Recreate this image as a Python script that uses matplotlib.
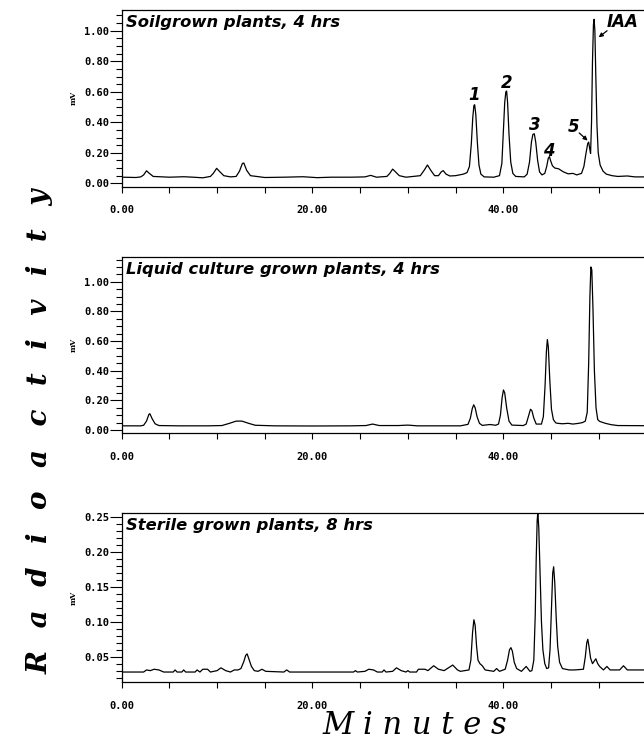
#!/usr/bin/env python3
"""Three radio-HPLC traces (soil / liquid culture / sterile grown plants), stacked, shared minute axis."""
import matplotlib; matplotlib.use("Agg")
import matplotlib.pyplot as plt
from matplotlib.ticker import MultipleLocator, FixedLocator, FixedFormatter

# --- soilgrown plants, 4 hrs (minutes, mV) ---
t_soil = [0.0, 1.5, 2.0, 2.3, 2.6, 2.9, 3.3, 5.0, 6.5, 7.5, 8.5, 9.3, 9.6, 9.95, 10.3, 10.7, 11.4,
          12.0, 12.35, 12.65, 12.8, 13.1, 13.5, 15.0, 17.0, 19.0, 20.5, 22.0, 24.0, 25.5, 26.1, 26.7,
          27.8, 28.1, 28.4, 28.7, 29.1, 29.8, 31.3, 31.7, 32.05, 32.4, 32.8, 33.2, 33.5, 33.7, 34.0,
          34.4, 35.0, 35.8, 36.2, 36.45, 36.65, 36.8, 36.92, 37.0, 37.12, 37.28, 37.45, 37.65, 38.0,
          39.0, 39.6, 39.85, 40.0, 40.15, 40.27, 40.35, 40.45, 40.6, 40.78, 41.0, 41.3, 42.2, 42.5,
          42.75, 42.95, 43.1, 43.25, 43.4, 43.6, 43.8, 44.05, 44.35, 44.55, 44.72, 44.84, 44.95, 45.15,
          45.4, 45.8, 46.3, 46.8, 47.3, 47.7, 48.2, 48.45, 48.65, 48.85, 48.95, 49.05, 49.15, 49.25,
          49.35, 49.45, 49.52, 49.6, 49.7, 49.82, 49.95, 50.15, 50.45, 50.8, 51.4, 52.0, 53.0, 53.8,
          54.8]
v_soil = [0.040, 0.038, 0.042, 0.055, 0.082, 0.065, 0.045, 0.040, 0.043, 0.040, 0.036, 0.045, 0.065,
          0.098, 0.075, 0.050, 0.042, 0.045, 0.080, 0.130, 0.133, 0.085, 0.050, 0.038, 0.040, 0.043,
          0.037, 0.040, 0.040, 0.042, 0.052, 0.040, 0.045, 0.065, 0.093, 0.075, 0.050, 0.040, 0.050,
          0.085, 0.120, 0.085, 0.050, 0.050, 0.075, 0.083, 0.060, 0.048, 0.050, 0.060, 0.070, 0.110,
          0.260, 0.430, 0.510, 0.515, 0.450, 0.270, 0.120, 0.060, 0.042, 0.040, 0.050, 0.130, 0.330,
          0.530, 0.600, 0.605, 0.530, 0.320, 0.140, 0.065, 0.045, 0.042, 0.060, 0.140, 0.270, 0.320,
          0.325, 0.270, 0.150, 0.075, 0.055, 0.065, 0.110, 0.165, 0.175, 0.150, 0.115, 0.100, 0.095,
          0.075, 0.062, 0.065, 0.055, 0.065, 0.110, 0.190, 0.260, 0.270, 0.230, 0.195, 0.400, 0.800,
          1.040, 1.075, 1.000, 0.700, 0.380, 0.200, 0.120, 0.080, 0.060, 0.050, 0.045, 0.048, 0.042,
          0.042]

# --- liquid culture grown plants, 4 hrs ---
t_liq = [0.0, 2.0, 2.3, 2.6, 2.85, 2.95, 3.2, 3.5, 3.9, 6.0, 9.0, 10.5, 11.3, 12.0, 12.6, 13.3, 14.0,
         16.0, 20.0, 24.0, 25.6, 26.3, 27.0, 29.0, 30.0, 31.0, 35.5, 36.3, 36.55, 36.75, 36.9, 37.05,
         37.25, 37.5, 37.8, 38.6, 39.2, 39.5, 39.7, 39.88, 40.02, 40.15, 40.35, 40.6, 40.9, 42.1,
         42.4, 42.65, 42.85, 43.0, 43.2, 43.45, 44.0, 44.2, 44.38, 44.52, 44.62, 44.72, 44.88, 45.05,
         45.25, 45.5, 45.7, 46.2, 46.8, 47.3, 47.9, 48.3, 48.6, 48.8, 48.95, 49.08, 49.18, 49.28,
         49.4, 49.55, 49.72, 49.9, 50.1, 50.7, 51.3, 52.0, 54.8]
v_liq = [0.028, 0.028, 0.032, 0.060, 0.105, 0.110, 0.075, 0.042, 0.030, 0.028, 0.028, 0.030, 0.045,
         0.060, 0.060, 0.045, 0.032, 0.028, 0.027, 0.028, 0.030, 0.040, 0.030, 0.030, 0.033, 0.028,
         0.028, 0.038, 0.080, 0.145, 0.170, 0.150, 0.090, 0.045, 0.031, 0.037, 0.032, 0.040, 0.100,
         0.220, 0.270, 0.250, 0.150, 0.060, 0.033, 0.030, 0.040, 0.095, 0.140, 0.130, 0.080, 0.040,
         0.040, 0.090, 0.300, 0.530, 0.610, 0.560, 0.330, 0.140, 0.070, 0.048, 0.045, 0.042, 0.045,
         0.040, 0.045, 0.050, 0.060, 0.120, 0.450, 0.900, 1.100, 1.080, 0.820, 0.400, 0.150, 0.070,
         0.058, 0.045, 0.036, 0.030, 0.029]

# --- sterile grown plants, 8 hrs ---
t_ster = [0.0, 2.3, 2.6, 3.0, 3.4, 3.9, 4.4, 5.4, 5.6, 5.8, 6.3, 6.5, 6.7, 7.7, 7.9, 8.2, 8.5, 9.0,
          9.3, 10.0, 10.4, 10.9, 11.4, 11.8, 12.2, 12.5, 12.8, 13.0, 13.15, 13.35, 13.6, 13.9, 14.3,
          14.7, 15.1, 17.0, 17.3, 17.6, 24.3, 24.5, 24.7, 25.5, 25.9, 26.4, 26.8, 27.3, 27.5, 27.7,
          28.4, 28.8, 29.3, 29.8, 30.0, 30.2, 30.9, 31.1, 31.8, 32.1, 32.7, 33.2, 33.8, 34.7, 35.2,
          35.5, 36.4, 36.6, 36.78, 36.92, 37.05, 37.2, 37.35, 37.55, 37.8, 38.1, 39.0, 39.3, 39.6,
          40.2, 40.45, 40.65, 40.8, 40.95, 41.15, 41.4, 41.9, 42.4, 42.8, 43.0, 43.2, 43.35, 43.45,
          43.55, 43.62, 43.72, 43.85, 44.0, 44.15, 44.35, 44.55, 44.75, 44.9, 45.05, 45.18, 45.28,
          45.4, 45.55, 45.7, 45.9, 46.2, 46.9, 47.5, 48.4, 48.6, 48.75, 48.86, 48.98, 49.15, 49.35,
          49.55, 49.7, 49.9, 50.1, 50.5, 50.86, 51.2, 52.2, 52.6, 53.0, 54.8]
v_ster = [0.028, 0.028, 0.031, 0.030, 0.032, 0.031, 0.028, 0.028, 0.031, 0.028, 0.028, 0.031, 0.028,
          0.028, 0.031, 0.028, 0.032, 0.032, 0.028, 0.030, 0.034, 0.030, 0.028, 0.031, 0.031, 0.033,
          0.043, 0.052, 0.054, 0.046, 0.036, 0.030, 0.029, 0.032, 0.029, 0.028, 0.031, 0.028, 0.028,
          0.030, 0.028, 0.029, 0.032, 0.031, 0.028, 0.028, 0.031, 0.028, 0.029, 0.034, 0.030, 0.028,
          0.030, 0.028, 0.028, 0.032, 0.032, 0.030, 0.037, 0.032, 0.030, 0.038, 0.031, 0.029, 0.031,
          0.045, 0.085, 0.103, 0.095, 0.065, 0.045, 0.040, 0.037, 0.031, 0.029, 0.033, 0.029, 0.032,
          0.045, 0.060, 0.063, 0.058, 0.042, 0.033, 0.029, 0.036, 0.029, 0.030, 0.045, 0.110, 0.190,
          0.245, 0.257, 0.235, 0.170, 0.100, 0.060, 0.040, 0.033, 0.034, 0.060, 0.120, 0.170, 0.179,
          0.155, 0.105, 0.065, 0.042, 0.033, 0.031, 0.031, 0.032, 0.050, 0.070, 0.075, 0.065, 0.048,
          0.040, 0.044, 0.047, 0.040, 0.036, 0.031, 0.036, 0.031, 0.031, 0.037, 0.031, 0.031]

titles = ["Soilgrown plants, 4 hrs", "Liquid culture grown plants, 4 hrs", "Sterile grown plants, 8 hrs"]
# peak annotations on the soil trace: (label, x, y)
peak_lab = [("1", 36.95, 0.58), ("2", 40.35, 0.655), ("3", 43.26, 0.38), ("4", 44.74, 0.21)]
# (label, text x, text y, arrow tail x, y, arrow tip x, y)
arrow_lab = [("5", 47.37, 0.37, 47.96, 0.33, 48.84, 0.28),
             ("IAA", 52.46, 1.06, 50.88, 1.00, 50.0, 0.957)]

W, H = 644, 742
fig = plt.figure(figsize=(W/100, H/100), dpi=100)
TICKFONT = dict(family="DejaVu Sans Mono", weight="bold", size=7.5)
TITLEFONT = dict(family="DejaVu Sans", weight="bold", style="italic", size=11.8)

# (top px, bottom px, ylim, major step, minor step, labelled range)
panels = [(10, 186.7, (-0.0223, 1.136), 0.2, 0.05, (0.0, 1.0)),
          (257.3, 433.3, (-0.0223, 1.165), 0.2, 0.05, (0.0, 1.0)),
          (513.3, 682, (0.0137, 0.2557), 0.05, 0.01, (0.05, 0.25))]
data = [(t_soil, v_soil), (t_liq, v_liq), (t_ster, v_ster)]
L = 121.7
for i, ((top, bot, ylim, mj, mn, rng), (t, v)) in enumerate(zip(panels, data)):
    ax = fig.add_axes([L/W, 1-bot/H, 1-L/W, (bot-top)/H])
    ax.plot(t, v, color="black", lw=0.9)
    ax.set_xlim(0, 54.75); ax.set_ylim(*ylim)
    ax.spines["right"].set_visible(False)
    for s in ("top", "left", "bottom"): ax.spines[s].set_linewidth(0.9)
    n = int(round((rng[1]-rng[0])/mj))
    yt = [rng[0]+k*mj for k in range(n+1)]
    ax.yaxis.set_major_locator(FixedLocator(yt))
    ax.yaxis.set_major_formatter(FixedFormatter([f"{y:.2f}" for y in yt]))
    ax.yaxis.set_minor_locator(MultipleLocator(mn))
    ax.xaxis.set_major_locator(FixedLocator([0, 20, 40]))
    ax.xaxis.set_major_formatter(FixedFormatter(["0.00", "20.00", "40.00"]))
    ax.xaxis.set_minor_locator(MultipleLocator(5))
    ax.tick_params(axis="y", which="major", direction="out", length=8.6, width=0.8, pad=0.5)
    ax.tick_params(axis="y", which="minor", direction="out", length=4.1, width=0.8)
    ax.tick_params(axis="x", which="both", direction="out", length=4.5, width=0.8, pad=9)
    for lab in ax.get_xticklabels() + ax.get_yticklabels():
        lab.set_fontproperties(TICKFONT)
    ax.text(0.008, 0.972, titles[i], transform=ax.transAxes, va="top", ha="left", **TITLEFONT)
    fig.text(73.5/W, 1-(top+bot)/2/H, "mV", rotation=90, ha="center", va="center",
             family="DejaVu Serif", weight="bold", size=5.5)
    if i == 0:
        for lab, x, y in peak_lab:
            ax.text(x, y, lab, ha="center", va="center", family="DejaVu Sans",
                    weight="bold", style="italic", size=12)
        for lab, x, y, x0, y0, x1, y1 in arrow_lab:
            ax.text(x, y, lab, ha="center", va="center", family="DejaVu Sans",
                    weight="bold", style="italic", size=12)
            ax.annotate("", xy=(x1, y1), xytext=(x0, y0),
                        arrowprops=dict(arrowstyle="-|>", color="black", lw=0.9,
                                        mutation_scale=6, shrinkA=0, shrinkB=0))

fig.text(40/W, 1-431/H, "\u2002 ".join("Radioactivity"), rotation=90, ha="center",
         va="center", family="DejaVu Serif", weight="bold", style="italic", size=20)
fig.text(415/W, 1-726/H, " ".join("Minutes"), ha="center", va="center",
         family="DejaVu Serif", style="italic", size=22)

fig.savefig("out.png", dpi=100, facecolor="white")
